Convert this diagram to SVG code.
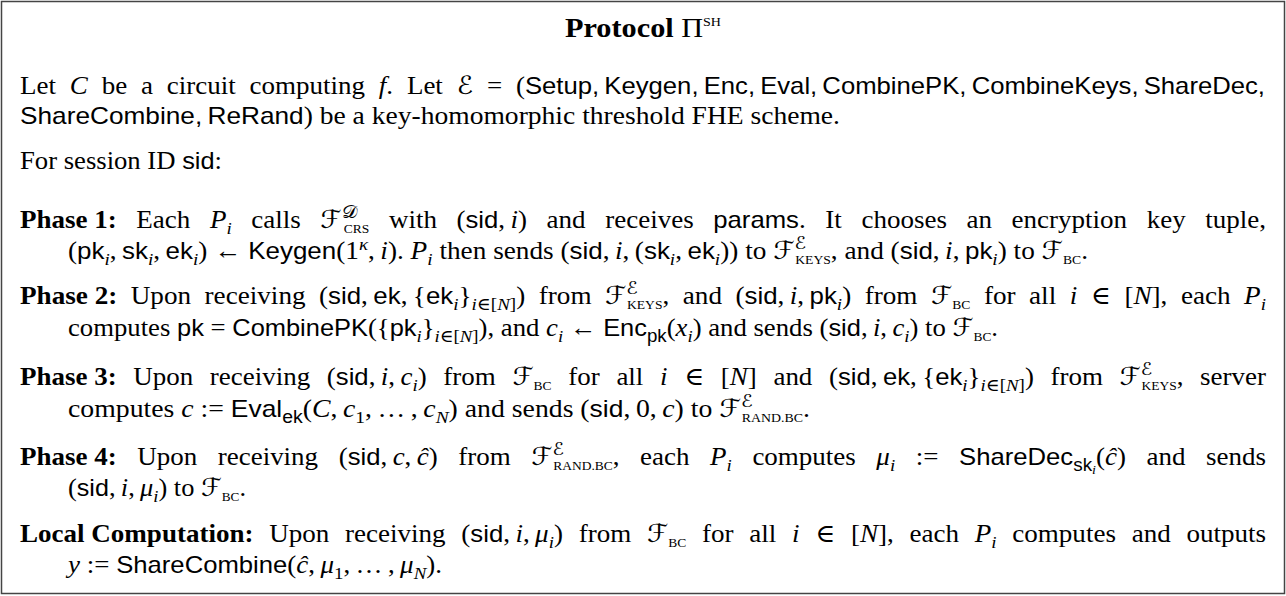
<svg xmlns="http://www.w3.org/2000/svg" width="1286" height="596" viewBox="0 0 1286 596">
<style>
text { font-family: "Liberation Serif", "DejaVu Serif", serif; font-size: 25px; fill: #000; }
.sf { font-family: "Liberation Sans", "DejaVu Sans", sans-serif; font-size: 23.8px; }
.it { font-style: italic; }
.bf { font-weight: bold; }
.ss { font-size: 17.5px; }
.sss { font-size: 13px; }
.sc { font-size: 12.5px; font-style: normal; }
.cal { font-family: "DejaVu Serif", "DejaVu Sans", serif; font-style: normal; }
.frame { fill: #fff; stroke: #444; stroke-width: 1.5; }
</style>
<rect class="frame" x="1.5" y="1.5" width="1283" height="592"/>

<g id="title">
<text x="565" y="37" textLength="156" lengthAdjust="spacingAndGlyphs" style="font-size:27px"><tspan class="bf">Protocol </tspan><tspan>Π</tspan><tspan class="sc" dy="-11">SH</tspan></text>
</g>

<g id="intro">
<text x="20" y="94" textLength="1245" lengthAdjust="spacingAndGlyphs" style="word-spacing:6.6px">Let <tspan class="it">C</tspan> be a circuit computing <tspan class="it">f</tspan>. Let <tspan class="cal">ℰ</tspan> = (<tspan class="sf">Setup,&#8201;Keygen,&#8201;Enc,&#8201;Eval,&#8201;CombinePK,&#8201;CombineKeys,&#8201;ShareDec,</tspan></text>
<text x="20" y="124" textLength="820" lengthAdjust="spacingAndGlyphs"><tspan class="sf">ShareCombine,&#8201;ReRand</tspan>) be a key-homomorphic threshold FHE scheme.</text>
<text x="20" y="169" textLength="202" lengthAdjust="spacingAndGlyphs">For session ID <tspan class="sf">sid</tspan>:</text>
</g>

<g id="phase1">
<text x="20" y="228" textLength="1246" lengthAdjust="spacingAndGlyphs" style="word-spacing:11.9px"><tspan class="bf">Phase&#8197;1:</tspan> Each <tspan class="it">P</tspan><tspan class="ss it" dy="6">i</tspan><tspan dy="-6"> calls </tspan><tspan class="cal">ℱ</tspan><tspan class="cal ss" dy="-10">𝒟</tspan><tspan class="sc" dx="-12" dy="15">CRS</tspan><tspan dy="-5"> with (</tspan><tspan class="sf">sid</tspan>,&#8201;<tspan class="it">i</tspan>) and receives <tspan class="sf">params</tspan>. It chooses an encryption key tuple,</text>
<text x="68" y="259" textLength="1020" lengthAdjust="spacingAndGlyphs">(<tspan class="sf">pk</tspan><tspan class="ss it" dy="6">i</tspan><tspan dy="-6">,&#8201;</tspan><tspan class="sf">sk</tspan><tspan class="ss it" dy="6">i</tspan><tspan dy="-6">,&#8201;</tspan><tspan class="sf">ek</tspan><tspan class="ss it" dy="6">i</tspan><tspan dy="-6">) ← </tspan><tspan class="sf">Keygen</tspan>(1<tspan class="ss it" dy="-9">κ</tspan><tspan dy="9">,&#8201;</tspan><tspan class="it">i</tspan>). <tspan class="it">P</tspan><tspan class="ss it" dy="6">i</tspan><tspan dy="-6"> then sends (</tspan><tspan class="sf">sid</tspan>,&#8201;<tspan class="it">i</tspan>,&#8201;(<tspan class="sf">sk</tspan><tspan class="ss it" dy="6">i</tspan><tspan dy="-6">,&#8201;</tspan><tspan class="sf">ek</tspan><tspan class="ss it" dy="6">i</tspan><tspan dy="-6">)) to </tspan><tspan class="cal">ℱ</tspan><tspan class="cal ss" dy="-10">ℰ</tspan><tspan class="sc" dx="-10" dy="15">KEYS</tspan><tspan dy="-5">, and (</tspan><tspan class="sf">sid</tspan>,&#8201;<tspan class="it">i</tspan>,&#8201;<tspan class="sf">pk</tspan><tspan class="ss it" dy="6">i</tspan><tspan dy="-6">) to </tspan><tspan class="cal">ℱ</tspan><tspan class="sc" dy="5">BC</tspan><tspan dy="-5">.</tspan></text>
</g>

<g id="phase2">
<text x="20" y="304" textLength="1246" lengthAdjust="spacingAndGlyphs" style="word-spacing:6.2px"><tspan class="bf">Phase&#8197;2:</tspan> Upon receiving (<tspan class="sf">sid</tspan>,&#8201;<tspan class="sf">ek</tspan>,&#8201;{<tspan class="sf">ek</tspan><tspan class="ss it" dy="6">i</tspan><tspan dy="-6">}</tspan><tspan class="ss it" dy="6">i</tspan><tspan class="ss">∈[</tspan><tspan class="ss it">N</tspan><tspan class="ss">]</tspan><tspan dy="-6">) from </tspan><tspan class="cal">ℱ</tspan><tspan class="cal ss" dy="-10">ℰ</tspan><tspan class="sc" dx="-10" dy="15">KEYS</tspan><tspan dy="-5">, and (</tspan><tspan class="sf">sid</tspan>,&#8201;<tspan class="it">i</tspan>,&#8201;<tspan class="sf">pk</tspan><tspan class="ss it" dy="6">i</tspan><tspan dy="-6">) from </tspan><tspan class="cal">ℱ</tspan><tspan class="sc" dy="5">BC</tspan><tspan dy="-5"> for all </tspan><tspan class="it">i</tspan> ∈ [<tspan class="it">N</tspan>], each <tspan class="it">P</tspan><tspan class="ss it" dy="6">i</tspan></text>
<text x="68" y="336" textLength="930" lengthAdjust="spacingAndGlyphs">computes <tspan class="sf">pk</tspan> = <tspan class="sf">CombinePK</tspan>({<tspan class="sf">pk</tspan><tspan class="ss it" dy="6">i</tspan><tspan dy="-6">}</tspan><tspan class="ss it" dy="6">i</tspan><tspan class="ss">∈[</tspan><tspan class="ss it">N</tspan><tspan class="ss">]</tspan><tspan dy="-6">), and </tspan><tspan class="it">c</tspan><tspan class="ss it" dy="6">i</tspan><tspan dy="-6"> ← </tspan><tspan class="sf">Enc</tspan><tspan class="sf ss" dy="6">pk</tspan><tspan dy="-6">(</tspan><tspan class="it">x</tspan><tspan class="ss it" dy="6">i</tspan><tspan dy="-6">) and sends (</tspan><tspan class="sf">sid</tspan>,&#8201;<tspan class="it">i</tspan>,&#8201;<tspan class="it">c</tspan><tspan class="ss it" dy="6">i</tspan><tspan dy="-6">) to </tspan><tspan class="cal">ℱ</tspan><tspan class="sc" dy="5">BC</tspan><tspan dy="-5">.</tspan></text>
</g>

<g id="phase3">
<text x="20" y="385" textLength="1246" lengthAdjust="spacingAndGlyphs" style="word-spacing:9.2px"><tspan class="bf">Phase&#8197;3:</tspan> Upon receiving (<tspan class="sf">sid</tspan>,&#8201;<tspan class="it">i</tspan>,&#8201;<tspan class="it">c</tspan><tspan class="ss it" dy="6">i</tspan><tspan dy="-6">) from </tspan><tspan class="cal">ℱ</tspan><tspan class="sc" dy="5">BC</tspan><tspan dy="-5"> for all </tspan><tspan class="it">i</tspan> ∈ [<tspan class="it">N</tspan>] and (<tspan class="sf">sid</tspan>,&#8201;<tspan class="sf">ek</tspan>,&#8201;{<tspan class="sf">ek</tspan><tspan class="ss it" dy="6">i</tspan><tspan dy="-6">}</tspan><tspan class="ss it" dy="6">i</tspan><tspan class="ss">∈[</tspan><tspan class="ss it">N</tspan><tspan class="ss">]</tspan><tspan dy="-6">) from </tspan><tspan class="cal">ℱ</tspan><tspan class="cal ss" dy="-10">ℰ</tspan><tspan class="sc" dx="-10" dy="15">KEYS</tspan><tspan dy="-5">, server</tspan></text>
<text x="68" y="417" textLength="742" lengthAdjust="spacingAndGlyphs">computes <tspan class="it">c</tspan> := <tspan class="sf">Eval</tspan><tspan class="sf ss" dy="6">ek</tspan><tspan dy="-6">(</tspan><tspan class="it">C</tspan>,&#8201;<tspan class="it">c</tspan><tspan class="ss" dy="6">1</tspan><tspan dy="-6">,&#8201;…&#8201;,&#8201;</tspan><tspan class="it">c</tspan><tspan class="ss it" dy="6">N</tspan><tspan dy="-6">) and sends (</tspan><tspan class="sf">sid</tspan>,&#8201;0,&#8201;<tspan class="it">c</tspan>) to <tspan class="cal">ℱ</tspan><tspan class="cal ss" dy="-10">ℰ</tspan><tspan class="sc" dx="-10" dy="15">RAND.BC</tspan><tspan dy="-5">.</tspan></text>
</g>

<g id="phase4">
<text x="20" y="465" textLength="1246" lengthAdjust="spacingAndGlyphs" style="word-spacing:12.8px"><tspan class="bf">Phase&#8197;4:</tspan> Upon receiving (<tspan class="sf">sid</tspan>,&#8201;<tspan class="it">c</tspan>,&#8201;<tspan class="it">ĉ</tspan>) from <tspan class="cal">ℱ</tspan><tspan class="cal ss" dy="-10">ℰ</tspan><tspan class="sc" dx="-10" dy="15">RAND.BC</tspan><tspan dy="-5">, each </tspan><tspan class="it">P</tspan><tspan class="ss it" dy="6">i</tspan><tspan dy="-6"> computes </tspan><tspan class="it">μ</tspan><tspan class="ss it" dy="6">i</tspan><tspan dy="-6"> := </tspan><tspan class="sf">ShareDec</tspan><tspan class="sf ss" dy="6">sk</tspan><tspan class="sss it" dy="3">i</tspan><tspan dy="-9">(</tspan><tspan class="it">ĉ</tspan>) and sends</text>
<text x="68" y="496" textLength="178" lengthAdjust="spacingAndGlyphs">(<tspan class="sf">sid</tspan>,&#8201;<tspan class="it">i</tspan>,&#8201;<tspan class="it">μ</tspan><tspan class="ss it" dy="6">i</tspan><tspan dy="-6">) to </tspan><tspan class="cal">ℱ</tspan><tspan class="sc" dy="5">BC</tspan><tspan dy="-5">.</tspan></text>
</g>

<g id="local">
<text x="20" y="542" textLength="1246" lengthAdjust="spacingAndGlyphs" style="word-spacing:8.3px"><tspan class="bf">Local&#8197;Computation:</tspan> Upon receiving (<tspan class="sf">sid</tspan>,&#8201;<tspan class="it">i</tspan>,&#8201;<tspan class="it">μ</tspan><tspan class="ss it" dy="6">i</tspan><tspan dy="-6">) from </tspan><tspan class="cal">ℱ</tspan><tspan class="sc" dy="5">BC</tspan><tspan dy="-5"> for all </tspan><tspan class="it">i</tspan> ∈ [<tspan class="it">N</tspan>], each <tspan class="it">P</tspan><tspan class="ss it" dy="6">i</tspan><tspan dy="-6"> computes and outputs</tspan></text>
<text x="68" y="573" textLength="374" lengthAdjust="spacingAndGlyphs"><tspan class="it">y</tspan> := <tspan class="sf">ShareCombine</tspan>(<tspan class="it">ĉ</tspan>,&#8201;<tspan class="it">μ</tspan><tspan class="ss" dy="6">1</tspan><tspan dy="-6">,&#8201;…&#8201;,&#8201;</tspan><tspan class="it">μ</tspan><tspan class="ss it" dy="6">N</tspan><tspan dy="-6">).</tspan></text>
</g>
</svg>
